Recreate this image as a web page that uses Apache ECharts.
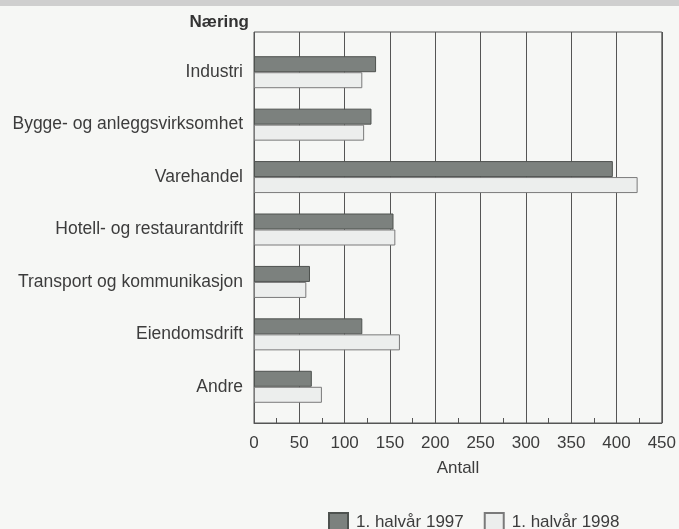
<!DOCTYPE html>
<html>
<head>
<meta charset="utf-8">
<script src="https://cdn.jsdelivr.net/npm/echarts@6/dist/echarts.min.js"></script>
<style>
html,body{margin:0;padding:0;background:#f6f7f5;}
#c{width:679px;height:529px;}
</style>
</head>
<body>
<div id="c"></div>
<script>
const categories = ['Industri','Bygge- og anleggsvirksomhet','Varehandel','Hotell- og restaurantdrift','Transport og kommunikasjon','Eiendomsdrift','Andre'];
const seriesNames = ['1. halvår 1997','1. halvår 1998'];
const values1997 = [133, 128, 391, 152, 61, 118, 63];
const values1998 = [118, 120, 418, 154, 57, 159, 74];
const xTicks = [0, 50, 100, 150, 200, 250, 300, 350, 400, 450];

const font = 'Liberation Sans, Arial, sans-serif';
const txt = '#3c3c3c';
const chart = echarts.init(document.getElementById('c'), null, {renderer:'canvas'});
chart.setOption({
  backgroundColor: '#f6f7f5',
  animation: false,
  graphic: [
    {type:'rect', left:0, top:0, shape:{width:679, height:6}, style:{fill:'#cfcfcf'}, silent:true},
    {type:'text', right:679-249, top:14, style:{text:'Næring', font:'bold 17px ' + font, fill:'#333'}}
  ],
  legend: {
    left: 323, top: 507,
    itemWidth: 19, itemHeight: 19, itemGap: 20,
    icon: 'rect',
    textStyle: {fontFamily: font, fontSize: 17, color: txt, padding:[0,0,0,3]},
    data: seriesNames
  },
  grid: [
    {left:254, right:12, top:32, bottom:106, show:true, borderColor:'#555', borderWidth:1, backgroundColor:'transparent'},
    {left:254, right:12, top:46, bottom:116}
  ],
  xAxis: [
    {
      type:'value', gridIndex:0, min:xTicks[0], max:xTicks[xTicks.length-1], interval:50,
      name:'Antall', nameLocation:'middle', nameGap:37,
      nameTextStyle:{fontFamily:font, fontSize:17, color:txt},
      axisLine:{show:true, lineStyle:{color:'#555', width:1}},
      axisTick:{show:true, inside:true, length:5, lineStyle:{color:'#555'}},
      minorTick:{show:true, splitNumber:2, length:5, lineStyle:{color:'#555'}},
      splitLine:{show:true, lineStyle:{color:'#555', width:1}},
      axisLabel:{fontFamily:font, fontSize:17, color:txt, margin:12}
    },
    {
      type:'value', gridIndex:1, min:xTicks[0], max:xTicks[xTicks.length-1], interval:50,
      show:false
    }
  ],
  yAxis: [
    {type:'category', gridIndex:0, data:categories, show:false},
    {
      type:'category', gridIndex:1, data:categories, inverse:true,
      axisLine:{show:false}, axisTick:{show:false},
      axisLabel:{fontFamily:font, fontSize:17.5, color:txt, margin:11}
    }
  ],
  series: [
    {
      name: seriesNames[0], type:'bar', xAxisIndex:1, yAxisIndex:1,
      data: values1997, barWidth:16, barGap:'0%',
      itemStyle:{color:'#7c817e', borderColor:'#4e524f', borderWidth:1}
    },
    {
      name: seriesNames[1], type:'bar', xAxisIndex:1, yAxisIndex:1,
      data: values1998, barWidth:16, barGap:'0%',
      itemStyle:{color:'#eceeed', borderColor:'#7a7a7a', borderWidth:1}
    }
  ]
});
</script>
</body>
</html>
